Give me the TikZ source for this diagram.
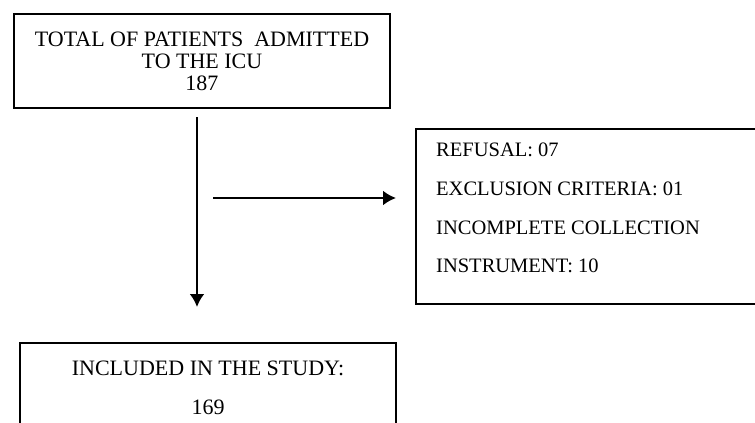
\documentclass[tikz,border=0pt]{standalone}
\usepackage{fontspec}
\setmainfont{Liberation Serif}
\usetikzlibrary{arrows.meta,positioning}

\begin{document}
\begin{tikzpicture}[x=1pt,y=-1pt,>={Latex[length=13pt,width=15pt]},line width=2.4pt]
    \tikzstyle{every node}=[font=\fontsize{20}{22}\selectfont]
    \tikzstyle{flowbox}=[draw,rectangle,inner sep=0pt]

    \useasboundingbox (0,0) rectangle (755,423);
    \clip (0,0) rectangle (755,423);

    \node[flowbox,minimum width=376pt,minimum height=94pt,align=center,
      font=\fontsize{22}{22}\selectfont] (total) at (202,61)
    {TOTAL OF PATIENTS\ \ ADMITTED\\TO THE ICU\\187};

    \node[flowbox,anchor=north west,minimum width=360pt,minimum height=175pt]
    (excl) at (415,128) {};
    \node[anchor=north west,align=left,inner sep=0pt,
      font=\fontsize{20.5}{38.7}\selectfont] (excltext)
    at ([shift={(20,14)}]excl.north west)
    {REFUSAL: 07\\EXCLUSION CRITERIA: 01\\INCOMPLETE COLLECTION\\INSTRUMENT: 10};

    \node[flowbox,minimum width=376pt,minimum height=89pt,align=center,
      font=\fontsize{22}{39}\selectfont] (incl) at (208,387.5)
    {INCLUDED IN THE STUDY:\\169};

    \coordinate (vstart) at (197,117);
    \coordinate (vend) at (197,307);
    \coordinate (hstart) at (213,198);
    \coordinate (hend) at (396,198);

    \draw[->] (vstart) -- (vend);
    \draw[->] (hstart) -- (hend);
\end{tikzpicture}
\end{document}
